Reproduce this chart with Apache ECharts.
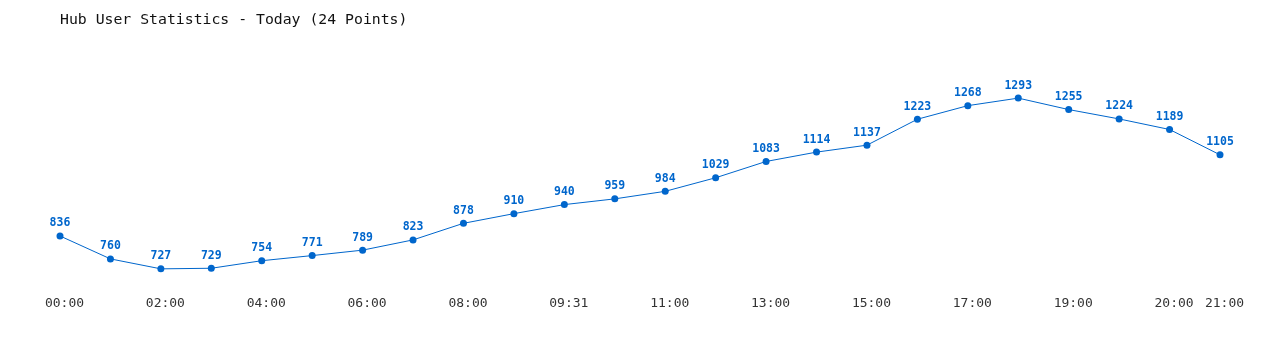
<!DOCTYPE html>
<html>
<head>
<meta charset="utf-8">
<script src="https://cdn.jsdelivr.net/npm/echarts@6/dist/echarts.min.js"></script>
<style>html,body{margin:0;padding:0;background:#fff}#c{width:1280px;height:350px}</style>
</head>
<body>
<div id="c"></div>
<script>
var titleText = 'Hub User Statistics - Today (24 Points)';
var categories = ['00:00','01:00','02:00','03:00','04:00','05:00','06:00','07:00','08:00','09:00','09:31','10:00',
                  '11:00','12:00','13:00','14:00','15:00','16:00','17:00','18:00','19:00','19:30','20:00','21:00'];
var users = [836,760,727,729,754,771,789,823,878,910,940,959,984,1029,1083,1114,1137,1223,1268,1293,1255,1224,1189,1105];

var font = '"DejaVu Sans Mono", "Liberation Mono", monospace';
var chart = echarts.init(document.getElementById('c'));
chart.setOption({
  animation: false,
  backgroundColor: '#fff',
  title: {
    text: titleText, left: 55, top: 8,
    textStyle: { fontFamily: font, fontSize: 14.8, fontWeight: 'normal', color: '#111' }
  },
  grid: { left: 60, right: 60, top: 96, bottom: 73 },
  xAxis: {
    type: 'category', data: categories, boundaryGap: false,
    axisLine: { show: false }, axisTick: { show: false },
    axisLabel: {
      interval: function (i) { return i % 2 === 0 || i === categories.length - 1; },
      fontFamily: font, fontSize: 13, color: '#333', margin: 20,
      padding: [0, 0, 0, 9]
    }
  },
  yAxis: {
    type: 'value', min: 700, max: 1300, show: false,
    splitLine: { show: false }
  },
  series: [{
    type: 'line', data: users,
    symbol: 'circle', symbolSize: 7,
    lineStyle: { color: '#0066cc', width: 1 },
    itemStyle: { color: '#0066cc' },
    label: {
      show: true, position: 'top', distance: 3,
      fontFamily: font, fontSize: 11.5, fontWeight: 'bold', color: '#0066cc'
    }
  }]
});
</script>
</body>
</html>
